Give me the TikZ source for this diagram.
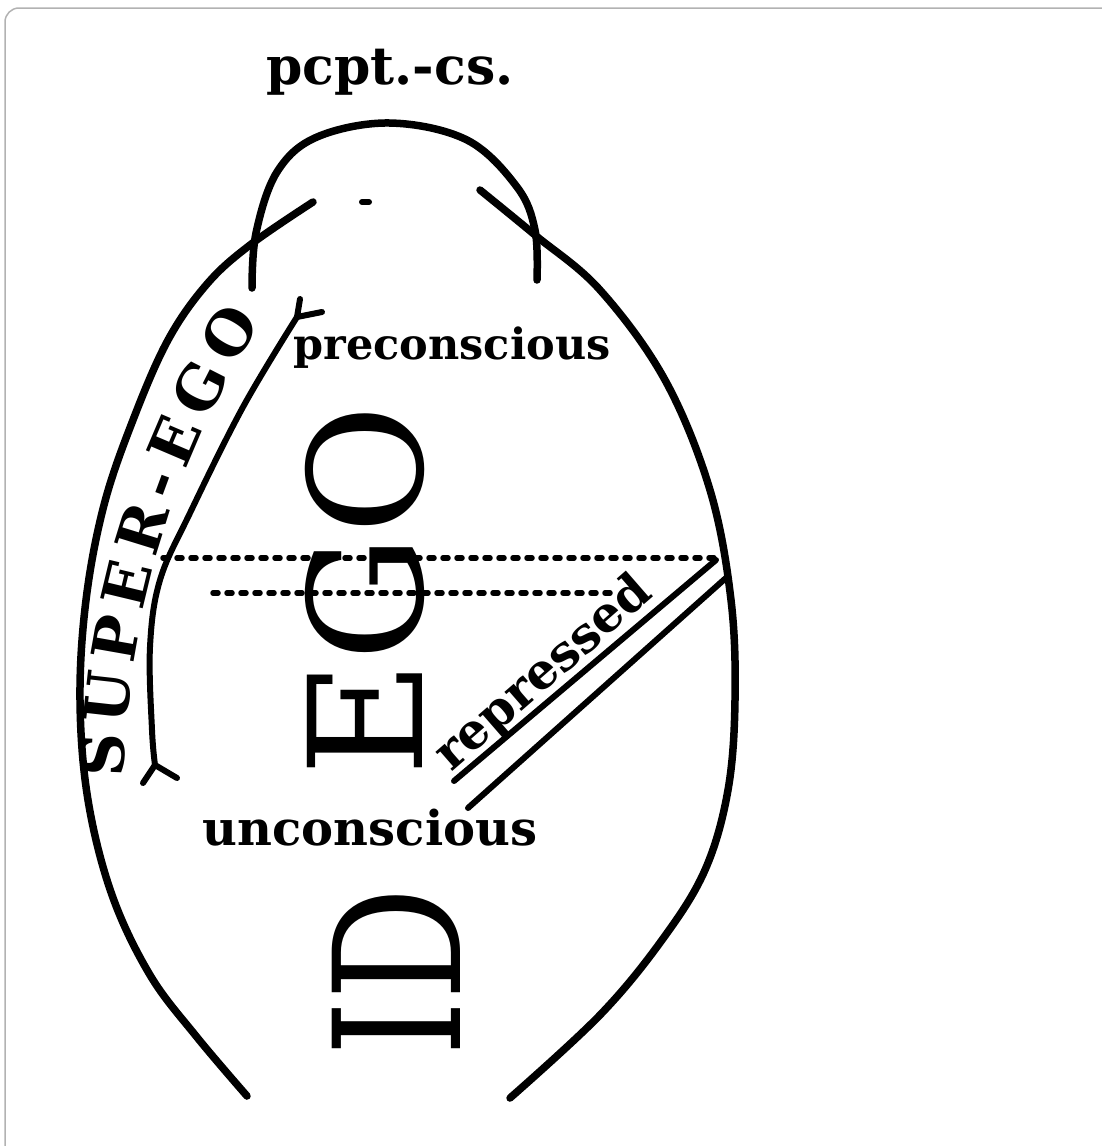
\documentclass[tikz,border=0pt]{standalone}
\usepackage{fontspec}
\setmainfont{DejaVu Serif}
\usetikzlibrary{decorations.text}

\begin{document}
\begin{tikzpicture}[x=1pt, y=-1pt, line cap=round, line join=round,
    stroke/.style={line width=7.5pt},
    thinstroke/.style={line width=6pt},
    dotline/.style={line width=5.5pt, dash pattern=on 5pt off 9pt},
    word/.style={inner sep=0pt, font=\bfseries\fontsize{#1}{#1}\selectfont},
    bigword/.style={inner sep=0pt, rotate=90, font=\fontsize{#1}{#1}\selectfont}]
    \useasboundingbox (0,0) rectangle (1102,1146);

    % frame round the page
    \draw[gray!60, line width=1.5pt, rounded corners=14pt] (5,1170) -- (5,8) -- (1130,8);

    % outer line, left half (runs on past the cap)
    \draw[stroke] plot[smooth, tension=0.6] coordinates {(247,1096) (196,1036) (150,975) (112,895) (88,800) (80,700) (86,600) (104,505) (133,420) (168,340) (207,284) (250,245) (313,202)};

    % outer line, right half
    \draw[stroke] plot[smooth, tension=0.6] coordinates {(480,190) (535,235) (600,290) (665,380) (710,490) (731,600) (735,700) (728,790) (705,870) (662,940) (600,1015) (510,1098)};

    % cap of the perception system
    \draw[stroke] plot[smooth, tension=0.6] coordinates {(252,288) (256,233) (277,172) (317,137) (390,123) (467,140) (517,187) (535,230) (537,280)};
    \draw[thinstroke] (362,202) -- (369,202);
    \node[word=52] (pcpt) at (390,72) {pcpt.-cs.};

    % inner line of the super-ego band, with its forked ends
    \draw[thinstroke] plot[smooth, tension=0.6] coordinates {(155,765) (152,730) (150,647) (160,580) (190,513) (243,407) (297,317)};
    \draw[thinstroke] (297,317) -- (300,299);
    \draw[thinstroke] (297,317) -- (322,312);
    \draw[thinstroke] (155,765) -- (143,783);
    \draw[thinstroke] (155,765) -- (177,778);
    \path[decorate, decoration={text along path, text align={fit to path},
        text format delimiters={|}{|},
        text={|\bfseries\fontsize{60}{60}\selectfont|SUPER-EGO}}]
        (124,778) .. controls (126,650) and (160,480) .. (262,322);

    % dotted border lines
    \draw[dotline] (163,558) -- (716,558);
    \draw[dotline] (213,593) -- (615,593);

    % the repressed, split off by a double line
    \draw[thinstroke] (716,560) -- (454,781);
    \draw[thinstroke] (727,577) -- (468,808);
    \node[word=49, rotate=41] (rep) at (544,674) {repressed};

    % the words
    \node[word=43] (precs) at (452,348) {preconscious};
    \node[word=48] (uncs) at (370,828) {unconscious};
    \node[bigword=158] (ego) at (365,591) {EGO};
    \node[bigword=176, xscale=0.8] (id) at (396,972) {ID};
\end{tikzpicture}
\end{document}
